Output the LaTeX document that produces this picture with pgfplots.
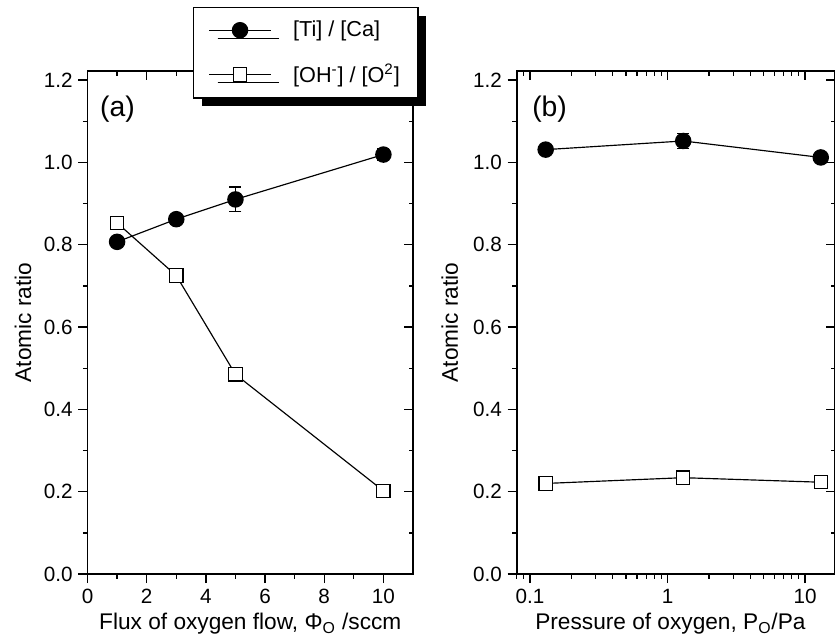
\documentclass[border=0pt]{standalone}
\usepackage{fontspec}
\setmainfont{Liberation Sans}
\usepackage{pgfplots}
\pgfplotsset{compat=1.18}
\usetikzlibrary{shadows}

\tikzset{ptlabel/.style={anchor=north west, inner sep=0pt, font=\fontsize{17}{20}\selectfont}}

\pgfplotsset{
  panel/.style={
    scale only axis, height=301.8pt,
    ymin=0, ymax=1.222,
    ytick={0,0.2,...,1.2}, minor y tick num=1,
    yticklabel style={/pgf/number format/.cd, fixed, fixed zerofill, precision=1},
    major tick length=5.4pt, minor tick length=2.7pt,
    axis line style={line width=1pt},
    every tick/.style={line width=0.8pt, black},
    /pgf/number format/assume math mode=true,
    tick label style={font=\fontsize{12.4}{14}\selectfont},
    label style={font=\fontsize{13.6}{16}\selectfont},
    every axis plot/.append style={line width=0.7pt, black},
  },
  inner ticks/.style={xtick pos=right, ytick pos=right, tick align=inside,
    xticklabel pos=left, yticklabel pos=left,
    xticklabels={}, yticklabels={}},
  outer ticks/.style={xtick pos=left, ytick pos=left, tick align=outside},
  errs/.style={draw=none, mark=none, forget plot, line width=0.7pt,
    error bars/.cd, y dir=both, y explicit,
    error bar style={line width=0.7pt},
    error mark options={line width=0.7pt, mark size=3.6pt, rotate=90}},
}

\begin{document}
\begin{tikzpicture}
\path (0,0) rectangle (501pt,384pt);
\clip (0,0) rectangle (501pt,384pt);

% (a) ticks on top and right
\begin{axis}[panel, inner ticks, at={(52.5pt,39.6pt)}, width=195.3pt,
  xmin=0, xmax=11, xtick={0,2,...,10}, minor x tick num=1]
\end{axis}

% (a)
\begin{axis}[panel, outer ticks, at={(52.5pt,39.6pt)}, width=195.3pt,
  xmin=0, xmax=11, xtick={0,2,...,10}, minor x tick num=1,
  xlabel={Flux of oxygen flow, Φ\textsubscript{O} /sccm},
  ylabel={Atomic ratio},
  xlabel style={at={(rel axis cs:0.5,-0.111)}, anchor=base},
  ylabel style={at={(rel axis cs:-0.198,0.5)}, anchor=center},
  legend cell align=left,
  legend image code/.code={\draw[mark repeat=2, mark phase=2, #1]
    plot coordinates {(0pt,0pt) (18.5pt,0pt) (37pt,0pt)};},
  legend style={at={(0.324,1.127)}, anchor=north west, draw=black, line width=0.8pt,
    fill=white, font=\fontsize{13}{15}\selectfont, row sep=11pt,
    inner xsep=9pt, inner ysep=6pt,
    /tikz/every odd column/.append style={column sep=11pt},
    drop shadow={shadow xshift=5pt, shadow yshift=-5pt, fill=black, opacity=1}},
]
\addplot[mark=*, mark size=4.6pt, mark options={fill=black}]
  coordinates {(1,0.807) (3,0.862) (5,0.910) (10,1.019)};
\addlegendentry{[Ti] / [Ca]}
\addplot[errs] coordinates {(5,0.910) +- (0,0.030) (10,1.019) +- (0,0.015)};
\addplot[mark=square*, mark size=4pt, mark options={fill=white}]
  coordinates {(1,0.853) (3,0.725) (5,0.485) (10,0.202)};
\addlegendentry{[OH\textsuperscript{-}] / [O\textsuperscript{2}]}
\addplot[errs] coordinates {(1,0.853) +- (0,0.011) (5,0.485) +- (0,0.011) (10,0.202) +- (0,0.011)};
\node[ptlabel] at (rel axis cs:0.038,0.952) {(a)};
\end{axis}

% (b) ticks on top and right
\begin{axis}[panel, inner ticks, at={(310pt,39.6pt)}, width=191pt,
  xmode=log, xmin=0.08, xmax=16.5]
\end{axis}

% (b)
\begin{axis}[panel, outer ticks, at={(310pt,39.6pt)}, width=191pt,
  xmode=log, xmin=0.08, xmax=16.5, log ticks with fixed point,
  xlabel={Pressure of oxygen, P\textsubscript{O}/Pa},
  ylabel={Atomic ratio},
  xlabel style={at={(rel axis cs:0.483,-0.111)}, anchor=base},
  ylabel style={at={(rel axis cs:-0.210,0.5)}, anchor=center},
]
\addplot[mark=*, mark size=4.6pt, mark options={fill=black}]
  coordinates {(0.13,1.031) (1.3,1.052) (13,1.012)};
\addplot[errs] coordinates {(1.3,1.052) +- (0,0.018)};
\addplot[mark=square*, mark size=4pt, mark options={fill=white}]
  coordinates {(0.13,0.220) (1.3,0.234) (13,0.223)};
\node[ptlabel] at (rel axis cs:0.048,0.952) {(b)};
\end{axis}
\end{tikzpicture}
\end{document}
